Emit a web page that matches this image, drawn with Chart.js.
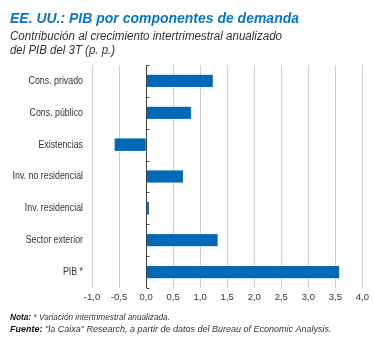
<!DOCTYPE html>
<html>
<head>
<meta charset="utf-8">
<script src="https://cdn.jsdelivr.net/npm/chart.js@4"></script>
<style>
  body { margin: 0; background: #fff; }
  #wrap { width: 373px; height: 338px; }
</style>
</head>
<body>
<div id="wrap"><canvas id="pibChart" width="373" height="338"></canvas></div>
<script>
// Datos
const categories = ['Cons. privado', 'Cons. público', 'Existencias', 'Inv. no residencial', 'Inv. residencial', 'Sector exterior', 'PIB *'];
const values = [1.23, 0.83, -0.58, 0.68, 0.05, 1.32, 3.57];
const xMin = -1.0;
const xMax = 4.0;
const xStep = 0.5;

const titleText = 'EE. UU.: PIB por componentes de demanda';
const subtitleLines = ['Contribución al crecimiento intertrimestral anualizado', 'del PIB del 3T (p. p.)'];
const notaText = ' * Variación intertrimestral anualizada.';
const fuenteText = ' "la Caixa" Research, a partir de datos del Bureau of Economic Analysis.';

const blue = '#0068b4';
const textGrey = '#333333';
const sans = '"Liberation Sans", sans-serif';

// dibuja una línea con varios trozos, comprimida al ancho deseado
function drawLine(ctx, parts, x, y, width) {
    let total = 0;
    parts.forEach(p => { ctx.font = p.font; total += ctx.measureText(p.text).width; });
    const sx = Math.min(1, width / total);
    ctx.save();
    ctx.translate(x, y);
    ctx.scale(sx, 1);
    let cx = 0;
    parts.forEach(p => {
        ctx.font = p.font;
        ctx.fillStyle = p.color;
        ctx.fillText(p.text, cx, 0);
        cx += ctx.measureText(p.text).width;
    });
    ctx.restore();
}

const textPlugin = {
    id: 'textPlugin',
    afterDraw: function(chart) {
        const ctx = chart.ctx;
        const area = chart.chartArea;
        const xs = chart.scales.x;
        const ys = chart.scales.y;
        ctx.save();
        ctx.textBaseline = 'alphabetic';
        ctx.textAlign = 'left';

        // título y subtítulo
        drawLine(ctx, [{ text: titleText, font: 'italic bold 15px ' + sans, color: '#0a76c0' }], 10, 23, 289);
        drawLine(ctx, [{ text: subtitleLines[0], font: 'italic 12px ' + sans, color: textGrey }], 10, 40, 272);
        drawLine(ctx, [{ text: subtitleLines[1], font: 'italic 12px ' + sans, color: textGrey }], 10, 54, 105);

        // notas
        drawLine(ctx, [
            { text: 'Nota:', font: 'italic bold 9px ' + sans, color: '#111' },
            { text: notaText, font: 'italic 9px ' + sans, color: textGrey }
        ], 10, 320, 160);
        drawLine(ctx, [
            { text: 'Fuente:', font: 'italic bold 9px ' + sans, color: '#111' },
            { text: fuenteText, font: 'italic 9px ' + sans, color: textGrey }
        ], 10, 332, 352);

        // etiquetas de categoría, algo estrechas
        ctx.font = '10.5px ' + sans;
        ctx.fillStyle = textGrey;
        ctx.textBaseline = 'middle';
        ctx.textAlign = 'right';
        categories.forEach(function(lab, i) {
            const yy = ys.getPixelForValue(i);
            ctx.save();
            ctx.translate(83, yy);
            ctx.scale(0.84, 1);
            ctx.fillText(lab, 0, 0);
            ctx.restore();
        });

        // eje en el cero con marcas
        const x0 = Math.round(xs.getPixelForValue(0)) + 0.5;
        ctx.strokeStyle = '#444';
        ctx.lineWidth = 1;
        ctx.beginPath();
        ctx.moveTo(x0, area.top);
        ctx.lineTo(x0, area.bottom);
        const step = (area.bottom - area.top) / categories.length;
        for (let i = 0; i <= categories.length; i++) {
            const yy = Math.round(area.top + i * step) + 0.5;
            ctx.moveTo(x0, yy);
            ctx.lineTo(x0 + 3, yy);
        }
        ctx.stroke();
        ctx.restore();
    }
};

const ctx = document.getElementById('pibChart').getContext('2d');
const chart = new Chart(ctx, {
    type: 'bar',
    data: {
        labels: categories,
        datasets: [{
            data: values,
            backgroundColor: blue,
            borderColor: '#2a86c8',
            borderWidth: 0.5,
            borderSkipped: false,
            barThickness: 12
        }]
    },
    options: {
        indexAxis: 'y',
        responsive: false,
        animation: false,
        layout: { padding: { top: 65, right: 10, left: 0, bottom: 0 } },
        scales: {
            x: {
                min: xMin,
                max: xMax,
                afterFit: function(scale) { scale.height = 50; },
                afterBuildTicks: function(scale) {
                    const t = [];
                    for (let v = xMin; v <= xMax + 1e-9; v += xStep) t.push({ value: Math.round(v * 10) / 10 });
                    scale.ticks = t;
                },
                grid: { color: '#cfcfcf', lineWidth: 1, drawTicks: false },
                border: { display: false },
                ticks: {
                    padding: 4,
                    color: textGrey,
                    font: { family: sans, size: 9.5 },
                    maxRotation: 0,
                    callback: function(value) { return value.toFixed(1).replace('.', ','); }
                }
            },
            y: {
                afterFit: function(scale) { scale.width = 92; },
                grid: { display: false, drawTicks: false },
                border: { display: false },
                ticks: { display: false }
            }
        },
        plugins: {
            legend: { display: false },
            tooltip: { enabled: false }
        }
    },
    plugins: [textPlugin]
});
</script>
</body>
</html>
